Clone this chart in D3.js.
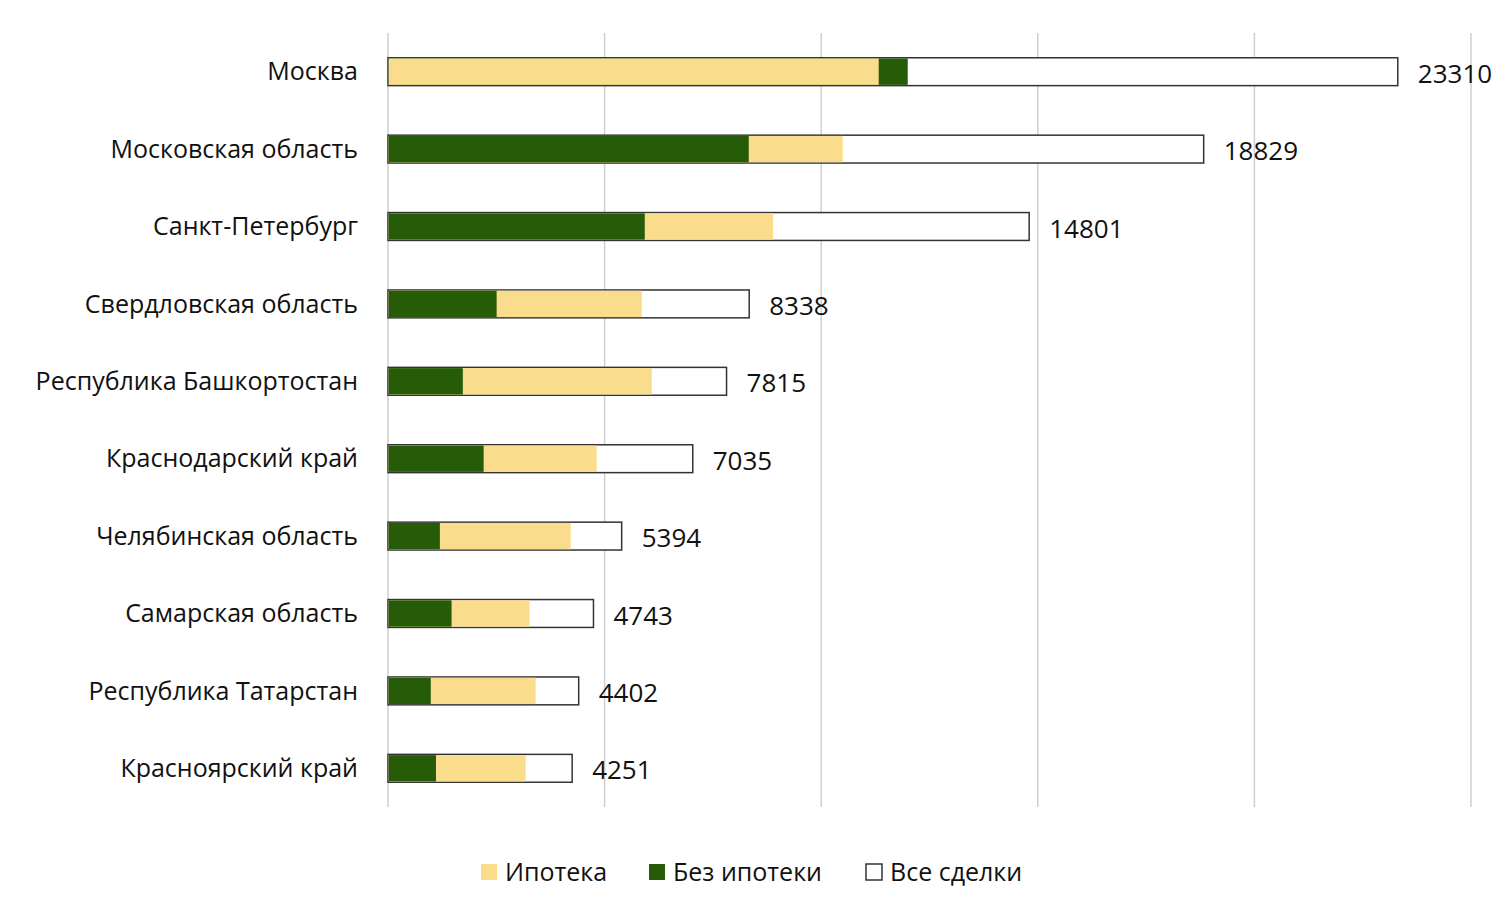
<!DOCTYPE html>
<html>
<head>
<meta charset="utf-8">
<script src="https://cdn.jsdelivr.net/npm/d3@7"></script>
<style>
  body { margin: 0; background: #fff; }
  text { font-family: "Open Sans", sans-serif; fill: #111; }
</style>
</head>
<body>
<div id="chart"></div>
<script>
var regions = ["Москва", "Московская область", "Санкт-Петербург", "Свердловская область",
  "Республика Башкортостан", "Краснодарский край", "Челябинская область",
  "Самарская область", "Республика Татарстан", "Красноярский край"]
var mortgage = [11310, 10480, 8870, 5840, 6070, 4800, 4200, 3250, 3390, 3160]
var noMortgage = [11980, 8310, 5910, 2490, 1710, 2190, 1180, 1450, 970, 1090]
var total = [23310, 18829, 14801, 8338, 7815, 7035, 5394, 4743, 4402, 4251]
var xTicks = [0, 5000, 10000, 15000, 20000, 25000]

var colMortgage = "#f9dc8c", colNo = "#265c07"

var svg = d3.select("#chart").append("svg")
  .attr("width", 1500).attr("height", 913)

var x = d3.scaleLinear().domain([0, 25000]).range([388, 1471])
var y = d3.scaleBand().domain(regions).range([33, 807]).paddingInner(0.64).paddingOuter(0.32)

// gridlines
svg.append("g").selectAll("line").data(xTicks).enter().append("line")
  .attr("x1", d => x(d)).attr("x2", d => x(d))
  .attr("y1", 33).attr("y2", 807)
  .attr("stroke", "#cfcfcf").attr("stroke-width", 1.5)

var rows = regions.map(function (r, i) {
  return {name: r, m: mortgage[i], n: noMortgage[i], t: total[i]}
})

// total outline
svg.append("g").selectAll("rect").data(rows).enter().append("rect")
  .attr("x", x(0)).attr("y", d => y(d.name))
  .attr("width", d => x(d.t) - x(0)).attr("height", y.bandwidth())
  .attr("fill", "#fff").attr("stroke", "#333").attr("stroke-width", 1.5)

// overlaid bars: larger first, smaller on top
rows.forEach(function (d) {
  var parts = [{v: d.m, c: colMortgage}, {v: d.n, c: colNo}].sort((a, b) => b.v - a.v)
  parts.forEach(function (p) {
    svg.append("rect")
      .attr("x", x(0) + 0.75).attr("y", y(d.name) + 0.75)
      .attr("width", x(p.v) - x(0)).attr("height", y.bandwidth() - 1.5)
      .attr("fill", p.c)
  })
})

// category labels
svg.append("g").selectAll("text").data(regions).enter().append("text")
  .attr("x", 358).attr("y", d => y(d) + y.bandwidth() / 2)
  .attr("dy", "0.35em").attr("text-anchor", "end")
  .style("font-size", "25px").text(d => d)

// value labels
svg.append("g").selectAll("text").data(rows).enter().append("text")
  .attr("x", d => x(d.t) + 20).attr("y", d => y(d.name) + y.bandwidth() / 2 + 2)
  .attr("dy", "0.35em")
  .style("font-size", "26px").text(d => d.t)

// legend
var legend = [{k: "Ипотека", c: colMortgage, s: "none", x: 481},
  {k: "Без ипотеки", c: colNo, s: "none", x: 649},
  {k: "Все сделки", c: "#fff", s: "#333", x: 866}]
var lg = svg.append("g").selectAll("g").data(legend).enter().append("g")
  .attr("transform", d => "translate(" + d.x + ",864)")
lg.append("rect").attr("width", 16).attr("height", 16)
  .attr("fill", d => d.c).attr("stroke", d => d.s).attr("stroke-width", 1.5)
lg.append("text").attr("x", 24).attr("y", 8).attr("dy", "0.35em")
  .style("font-size", "25px").text(d => d.k)
</script>
</body>
</html>
